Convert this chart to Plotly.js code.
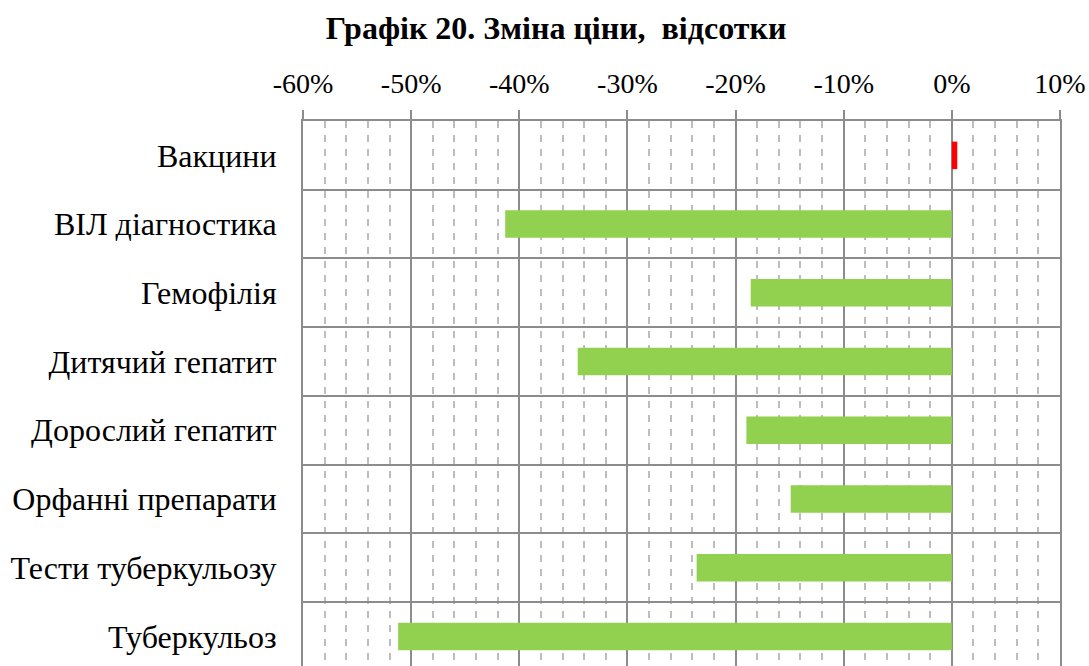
<!DOCTYPE html>
<html>
<head>
<meta charset="utf-8">
<script src="https://cdn.plot.ly/plotly-3.0.1.min.js"></script>
<style>
  body { margin: 0; background: #fff; }
  #chart { width: 1089px; height: 666px; }
</style>
</head>
<body>
<div id="chart"></div>
<script>
"use strict";
// categories, top to bottom
const categories = [
  "Вакцини",
  "ВІЛ діагностика",
  "Гемофілія",
  "Дитячий гепатит",
  "Дорослий гепатит",
  "Орфанні препарати",
  "Тести туберкульозу",
  "Туберкульоз",
];
// price change, percent
const changes = [0.5, -41.3, -18.6, -34.6, -19.0, -14.9, -23.6, -51.2];
const tickValues = [-60, -50, -40, -30, -20, -10, 0, 10];
const tickLabels = ["-60%", "-50%", "-40%", "-30%", "-20%", "-10%", "0%", "10%"];

const barColors = changes.map(v => v > 0 ? "#ff0000" : "#92d050");

const serif = "Liberation Serif, Times New Roman, serif";
const gridGrey = "#8c8c8c";

const layout = {
  width: 1089,
  height: 666,
  margin: {l: 303, r: 29, t: 121, b: 0},
  paper_bgcolor: "#fff",
  plot_bgcolor: "#fff",
  showlegend: false,
  font: {family: serif, size: 32, color: "#000"},
  title: {
    text: "<b>Графік 20. Зміна ціни,  відсотки</b>",
    font: {family: serif, size: 32, color: "#000"},
    xref: "container",
    x: 0.5106,
    xanchor: "center",
    yref: "container",
    y: 0.958,
    yanchor: "middle",
  },
  xaxis: {
    side: "top",
    range: [-60, 10],
    tickvals: tickValues,
    ticktext: tickLabels,
    showgrid: true,
    gridcolor: gridGrey,
    gridwidth: 2,
    zeroline: true,
    zerolinecolor: gridGrey,
    zerolinewidth: 2,
    showline: true,
    linecolor: gridGrey,
    linewidth: 2,
    ticks: "outside",
    ticklen: 9,
    tickwidth: 2,
    tickcolor: gridGrey,
    ticklabelstandoff: 6,
    tickfont: {family: serif, size: 28, color: "#000"},
    minor: {
      dtick: 2,
      showgrid: true,
      gridcolor: "#bdbdbd",
      gridwidth: 2,
      griddash: "7px,7px",
    },
    fixedrange: true,
  },
  yaxis: {
    type: "category",
    categoryorder: "array",
    categoryarray: categories,
    range: [7.43, -0.5],
    tickson: "boundaries",
    showgrid: true,
    gridcolor: gridGrey,
    gridwidth: 2,
    showline: true,
    mirror: true,
    linecolor: gridGrey,
    linewidth: 2,
    ticks: "",
    ticklabelstandoff: 18,
    tickfont: {family: serif, size: 32, color: "#000"},
    fixedrange: true,
  },
  bargap: 0.6,
};

Plotly.newPlot("chart", [
  {
    type: "bar",
    orientation: "h",
    y: categories,
    x: changes,
    marker: {color: barColors},
    hoverinfo: "none",
  },
], layout, {displayModeBar: false, staticPlot: true});
</script>
</body>
</html>
